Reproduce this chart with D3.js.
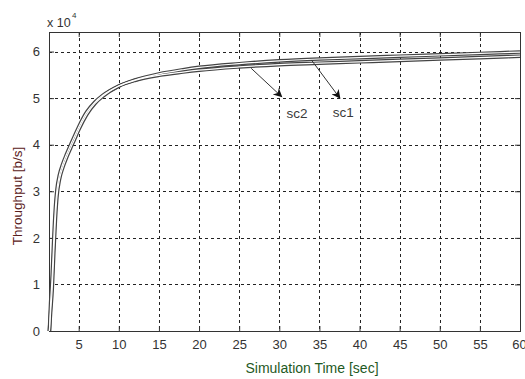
<!DOCTYPE html>
<html><head><meta charset="utf-8">
<script src="https://cdn.jsdelivr.net/npm/d3@7"></script>
<style>body{margin:0;background:#fff;}svg{display:block;font-family:"Liberation Sans",Arial,sans-serif;}</style>
</head><body>
<svg id="c" width="525" height="379"></svg>
<script>
const time = [1.35,1.5,1.7,1.9,2.1,2.3,2.6,3.0,3.5,4,4.5,5,6,7,8,10,12,15,18,20,25,30,35,40,45,50,55,60];
const sc1 = [0,4000,9000,17000,24000,29000,32500,35000,37300,39300,41200,43200,46500,48800,50400,52600,53900,55200,56100,56600,57400,58000,58400,58700,59000,59300,59600,59900];
const sc2 = [0,6000,12000,20000,26500,30500,33500,35800,38000,40000,41900,43800,47000,49100,50600,52600,53800,54900,55600,56000,56700,57200,57500,57800,58100,58400,58700,59000];
const xTicks = [5,10,15,20,25,30,35,40,45,50,55,60];
const yTicks = [0,10000,20000,30000,40000,50000,60000];
const yTickLabels = ["0","1","2","3","4","5","6"];
const annotations = [
  {label:"sc2", from:[26.5,56400], to:[30.3,50300], text:[32.2,46800]},
  {label:"sc1", from:[34.0,58200], to:[37.55,50000], text:[37.96,46900]}
];

const svg = d3.select("#c");
const L=49, R=520, T=32, B=331;
const x = d3.scaleLinear().domain([1.3,60]).range([L,R]);
const y = d3.scaleLinear().domain([0,64200]).range([B,T]);

// grid
const grid = svg.append("g").attr("stroke","#222").attr("stroke-width",1).attr("stroke-dasharray","3,3");
grid.selectAll("line.v").data(xTicks.filter(t=>t<60)).join("line")
  .attr("x1",d=>Math.round(x(d))+0.5).attr("x2",d=>Math.round(x(d))+0.5).attr("y1",T).attr("y2",B);
grid.selectAll("line.h").data(yTicks.filter(t=>t>0)).join("line")
  .attr("y1",d=>Math.round(y(d))+0.5).attr("y2",d=>Math.round(y(d))+0.5).attr("x1",L).attr("x2",R);

// axes
const fmtY = (d)=>yTickLabels[yTicks.indexOf(d)];
const ax = svg.append("g").attr("transform",`translate(0,${B})`)
  .call(d3.axisBottom(x).tickValues(xTicks).tickSizeInner(-5).tickSizeOuter(0).tickPadding(9));
const ay = svg.append("g").attr("transform",`translate(${L},0)`)
  .call(d3.axisLeft(y).tickValues(yTicks).tickFormat(fmtY).tickSizeInner(-5).tickSizeOuter(0).tickPadding(9));
const axT = svg.append("g").attr("transform",`translate(0,${T})`)
  .call(d3.axisTop(x).tickValues(xTicks).tickSizeInner(-5).tickSizeOuter(0).tickFormat(""));
const ayR = svg.append("g").attr("transform",`translate(${R},0)`)
  .call(d3.axisRight(y).tickValues(yTicks).tickSizeInner(-5).tickSizeOuter(0).tickFormat(""));
[ax,ay,axT,ayR].forEach(g=>{
  g.select(".domain").remove();
  g.selectAll("line").attr("stroke","#333");
  g.selectAll("text").attr("fill","#333").style("font-size","13px").style("font-family","'Liberation Sans',Arial,sans-serif");
});
ax.selectAll("text").filter(d=>d===60).attr("text-anchor","middle").attr("dx","-1");
svg.append("rect").attr("x",L+0.5).attr("y",T+0.5).attr("width",R-L).attr("height",B-T)
  .attr("fill","none").attr("stroke","#333").attr("stroke-width",1);

// curves
const line = d3.line().x((d,i)=>x(time[i])).y(d=>y(d)).curve(d3.curveMonotoneX);
[sc1,sc2].forEach(s=>{
  svg.append("path").datum(s).attr("d",line).attr("fill","none").attr("stroke","#444").attr("stroke-width",3.6);
});
[sc1,sc2].forEach(s=>{
  svg.append("path").datum(s).attr("d",line).attr("fill","none").attr("stroke","#fff").attr("stroke-width",1.2);
});

// arrows
svg.append("defs").append("marker").attr("id","ah").attr("viewBox","0 0 10 10")
  .attr("refX",9).attr("refY",5).attr("markerWidth",11).attr("markerHeight",9)
  .attr("markerUnits","userSpaceOnUse").attr("orient","auto")
  .append("path").attr("d","M0,0 L10,5 L0,10 L3,5 Z").attr("fill","#111");
annotations.forEach(a=>{
  svg.append("line").attr("x1",x(a.from[0])).attr("y1",y(a.from[1]))
    .attr("x2",x(a.to[0])).attr("y2",y(a.to[1])).attr("stroke","#333").attr("stroke-width",1)
    .attr("marker-end","url(#ah)");
  svg.append("text").attr("x",x(a.text[0])).attr("y",y(a.text[1])).attr("dy","0.35em")
    .attr("text-anchor","middle").attr("fill","#3a3a3a").style("font-size","13.5px").text(a.label);
});

// labels
svg.append("text").attr("x",47).attr("y",27).attr("fill","#333").style("font-size","12.5px").text("x 10");
svg.append("text").attr("x",72).attr("y",18).attr("fill","#333").style("font-size","8px").text("4");
svg.append("text").attr("transform","translate(22,196) rotate(-90)").attr("text-anchor","middle")
  .attr("fill","#5a2020").style("font-size","13.5px").text("Throughput [b/s]");
svg.append("text").attr("x",312).attr("y",373).attr("text-anchor","middle")
  .attr("fill","#1f5a1f").style("font-size","14px").text("Simulation Time [sec]");
</script>
</body></html>
